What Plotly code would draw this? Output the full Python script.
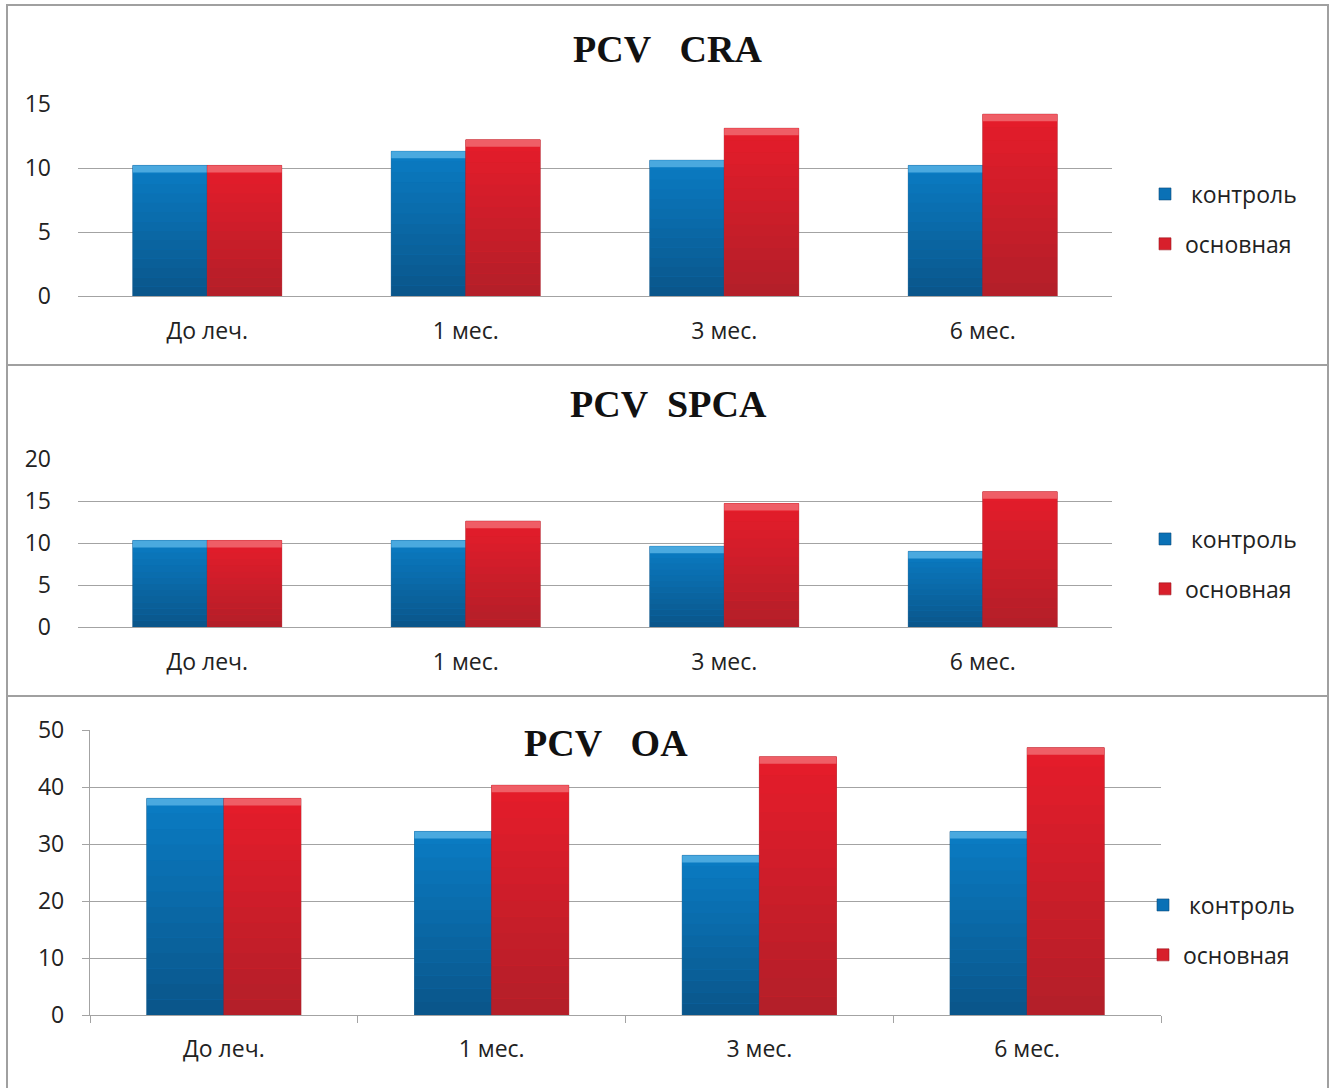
import plotly.graph_objects as go

# Data
categories = ["До леч.", "1 мес.", "3 мес.", "6 мес."]
series_names = ["\u00a0контроль", "основная"]

cra_control = [10.2, 11.3, 10.6, 10.2]
cra_main = [10.2, 12.2, 13.1, 14.2]

spca_control = [10.3, 10.3, 9.6, 9.0]
spca_main = [10.3, 12.6, 14.7, 16.1]

oa_control = [38.0, 32.2, 28.0, 32.2]
oa_main = [38.0, 40.3, 45.3, 46.9]

titles = ["PCV\u00a0\u00a0\u00a0CRA", "PCV\u00a0\u00a0SPCA", "PCV\u00a0\u00a0\u00a0OA"]
y_ranges = [(0, 15), (0, 20), (0, 50)]
y_dtick = [5, 5, 10]

W, H = 1335, 1088


def px_x(v):
    return v / W


def px_y(v):
    return 1 - v / H


def hex_to_rgb(h):
    h = h.lstrip("#")
    return tuple(int(h[i:i + 2], 16) for i in (0, 2, 4))


def mix(c1, c2, t):
    a, b = hex_to_rgb(c1), hex_to_rgb(c2)
    return "rgb({},{},{})".format(*(round(a[i] + (b[i] - a[i]) * t) for i in range(3)))


# Panel geometry (pixel positions of each plot area)
panels = [
    dict(x0=78, x1=1112, ytop=104, ybot=296, title_x=667, title_y=49,
         leg_x=1145, leg_y=219, axis_line=False),
    dict(x0=78, x1=1112, ytop=459, ybot=627, title_x=668, title_y=404,
         leg_x=1145, leg_y=564, axis_line=False),
    dict(x0=90, x1=1161, ytop=730, ybot=1015, title_x=606, title_y=743,
         leg_x=1143, leg_y=930, axis_line=True),
]

data_sets = [(cra_control, cra_main), (spca_control, spca_main), (oa_control, oa_main)]

# fill colours: legend/base colour, gradient top -> bottom, bevel highlight, edge
base_colors = ["#0a71b6", "#d81f2b"]
grad_top = ["#0a7cc4", "#e61c2a"]
grad_bottom = ["#0a5589", "#b21f29"]
top_colors = ["#4aa9df", "#ef5e66"]
edge_colors = ["#0a4a7a", "#9a1820"]
n_steps = 14

bar_w = 0.288
offsets = [-0.288, 0.0]

font_sans = "Open Sans, Noto Sans, sans-serif"
text_col = "#222222"
grid_col = "#a3a3a3"

fig = go.Figure()
layout = {}

for i, (p, (ctrl, main)) in enumerate(zip(panels, data_sets)):
    n = "" if i == 0 else str(i + 1)
    xa, ya = "x" + n, "y" + n
    leg = "legend" + n
    ymin, ymax = y_ranges[i]
    px_per_unit = (p["ybot"] - p["ytop"]) / (ymax - ymin)
    bevel = 7 / px_per_unit

    for s, vals in enumerate((ctrl, main)):
        grp = f"g{i}{s}"
        # full bar (carries the legend entry)
        fig.add_trace(go.Bar(
            x=categories, y=vals, name=series_names[s],
            xaxis=xa, yaxis=ya, legend=leg, legendgroup=grp,
            offset=offsets[s], width=bar_w,
            marker=dict(color=base_colors[s], line=dict(color=edge_colors[s], width=0.6)),
            hovertemplate="%{x}: %{y}<extra>" + series_names[s] + "</extra>",
        ))
        # vertical shading: bands from dark (bottom) to bright (top)
        for k in range(n_steps):
            t = (k + 0.5) / n_steps
            fig.add_trace(go.Bar(
                x=categories, y=[v / n_steps for v in vals],
                base=[v * k / n_steps for v in vals],
                xaxis=xa, yaxis=ya, showlegend=False, legendgroup=grp,
                offset=offsets[s], width=bar_w,
                marker=dict(color=mix(grad_bottom[s], grad_top[s], t), line=dict(width=0)),
                hoverinfo="skip",
            ))
        # lighter bevel strip along the top edge of each bar
        fig.add_trace(go.Bar(
            x=categories, y=[bevel] * len(vals), base=[v - bevel for v in vals],
            xaxis=xa, yaxis=ya, showlegend=False, legendgroup=grp,
            offset=offsets[s], width=bar_w,
            marker=dict(color=top_colors[s], line=dict(width=0)),
            hoverinfo="skip",
        ))

    layout["xaxis" + n] = dict(
        domain=[px_x(p["x0"]), px_x(p["x1"])], anchor=ya,
        type="category", categoryorder="array", categoryarray=categories,
        showgrid=False, showline=True, linecolor=grid_col, linewidth=1.3,
        ticks="outside" if p["axis_line"] else "",
        tickson="boundaries", ticklen=7, tickcolor=grid_col,
        tickfont=dict(family=font_sans, size=23, color=text_col),
        ticklabelstandoff=13 if p["axis_line"] else 14,
        automargin=False, fixedrange=True,
    )
    layout["yaxis" + n] = dict(
        domain=[px_y(p["ybot"]), px_y(p["ytop"])], anchor=xa,
        range=[ymin, ymax], dtick=y_dtick[i], tick0=0,
        showgrid=True, gridcolor=grid_col, gridwidth=1.3,
        zeroline=False,
        showline=p["axis_line"], linecolor=grid_col, linewidth=1.3,
        ticks="outside" if p["axis_line"] else "", ticklen=7, tickcolor=grid_col,
        tickfont=dict(family=font_sans, size=23, color=text_col),
        ticklabelstandoff=13 if p["axis_line"] else 26,
        automargin=False, fixedrange=True,
    )
    layout[leg] = dict(
        x=px_x(p["leg_x"]), y=px_y(p["leg_y"]), xanchor="left", yanchor="middle",
        font=dict(family=font_sans, size=23, color=text_col),
        bgcolor="rgba(0,0,0,0)", traceorder="grouped", tracegroupgap=17,
        itemclick=False, itemdoubleclick=False,
    )

annotations = []
for p, t in zip(panels, titles):
    annotations.append(dict(
        text=f"<b>{t}</b>", x=px_x(p["title_x"]), y=px_y(p["title_y"]),
        xref="paper", yref="paper", xanchor="center", yanchor="middle",
        showarrow=False,
        font=dict(family="Liberation Serif, Times New Roman, serif", size=38, color="#111111"),
    ))

border = "#a0a0a0"
shapes = [
    dict(type="rect", xref="paper", yref="paper",
         x0=px_x(7), x1=px_x(1328), y0=-0.05, y1=px_y(5),
         line=dict(color=border, width=2), fillcolor="rgba(0,0,0,0)", layer="below"),
    dict(type="line", xref="paper", yref="paper",
         x0=px_x(7), x1=px_x(1328), y0=px_y(365), y1=px_y(365),
         line=dict(color=border, width=2)),
    dict(type="line", xref="paper", yref="paper",
         x0=px_x(7), x1=px_x(1328), y0=px_y(696), y1=px_y(696),
         line=dict(color=border, width=2)),
]

fig.update_layout(
    width=W, height=H,
    margin=dict(l=0, r=0, t=0, b=0, pad=0, autoexpand=False),
    paper_bgcolor="white", plot_bgcolor="white",
    barmode="overlay", showlegend=True,
    annotations=annotations, shapes=shapes,
    **layout,
)

fig.write_html("out.html", config={"displayModeBar": False})
